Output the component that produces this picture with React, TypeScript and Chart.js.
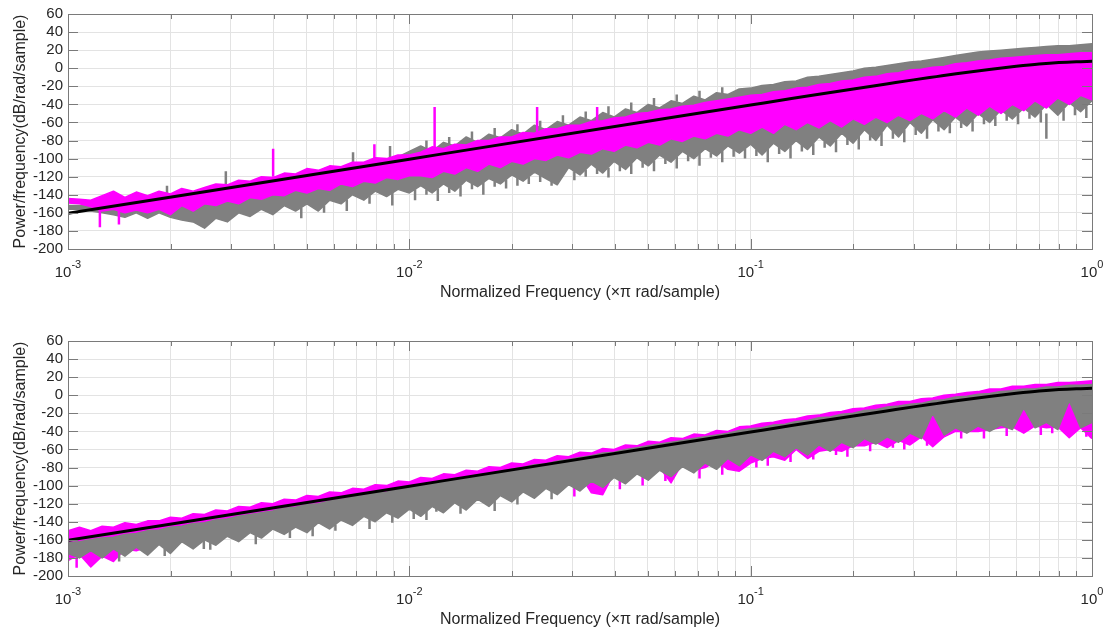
import { useEffect, useRef } from 'react';
import { Chart, registerables } from 'chart.js';

Chart.register(...registerables);

const W = 1108;
const PANEL_H = 314;
const FONT = "'Liberation Sans', Arial, Helvetica, sans-serif";
const TEXT = '#262626';
const GRID = '#e3e3e3';
const AXIS = '#7a7a7a';
const MAGENTA = '#ff00ff';
const GRAY = '#808080';

// Normalized frequency sample positions (x pi rad/sample)
const FREQ = [
  0.001, 0.00108, 0.001166, 0.001259, 0.001359, 0.001468, 0.001585, 0.001711, 0.001848, 0.001995,
  0.002154, 0.002326, 0.002512, 0.002712, 0.002929, 0.003162, 0.003415, 0.003687, 0.003981, 0.004299,
  0.004642, 0.005012, 0.005412, 0.005843, 0.00631, 0.006813, 0.007356, 0.007943, 0.008577, 0.009261,
  0.01, 0.0108, 0.01166, 0.01259, 0.01359, 0.01468, 0.01585, 0.01711, 0.01848, 0.01995,
  0.02154, 0.02326, 0.02512, 0.02712, 0.02929, 0.03162, 0.03415, 0.03687, 0.03981, 0.04299,
  0.04642, 0.05012, 0.05412, 0.05843, 0.0631, 0.06813, 0.07356, 0.07943, 0.08577, 0.09261,
  0.1, 0.108, 0.1166, 0.1259, 0.1359, 0.1468, 0.1585, 0.1711, 0.1848, 0.1995,
  0.2154, 0.2326, 0.2512, 0.2712, 0.2929, 0.3162, 0.3415, 0.3687, 0.3981, 0.4299,
  0.4642, 0.5012, 0.5412, 0.5843, 0.631, 0.6813, 0.7356, 0.7943, 0.8577, 0.9261,
  1.0,
];

// Black model curve (same in both panels)
const MODEL_F = [0.001, 0.01, 0.05, 0.1, 0.12, 0.15, 0.2, 0.25, 0.3, 0.35, 0.4, 0.45, 0.5, 0.6, 0.7, 0.8, 0.9, 1.0];
const MODEL_V = [-160.6, -100.6, -58.7, -40.7, -36.0, -30.2, -22.9, -17.4, -12.9, -9.3, -6.2, -3.6, -1.4, 2.1, 4.7, 6.4, 7.3, 7.7];

// ---------- Top panel ----------
const TOP_MAG_HI = [
  -144, -145, -146, -141, -136, -143, -137, -141, -136, -139,
  -133, -136, -132, -128, -129, -124, -125, -120, -121, -116,
  -117, -111, -113, -108, -109, -104, -104, -99, -100, -96,
  -96, -93, -87, -89, -84, -85, -80, -80, -76, -76,
  -71, -72, -67, -67, -63, -63, -59, -58, -55, -54,
  -50, -49, -46, -45, -42, -41, -38, -36, -34, -32,
  -30, -29, -26, -25, -22, -21, -18, -17, -14, -13,
  -10, -9, -6, -5, -2, -1, 1, 2, 5, 6,
  8, 9, 11, 12, 13, 14, 15, 15, 16, 17,
  17,
];
const TOP_MAG_LO = [
  -149, -150, -153, -158, -156, -160, -157, -160, -156, -162,
  -152, -158, -150, -152, -147, -150, -143, -145, -140, -141,
  -135, -138, -133, -135, -128, -131, -125, -127, -121, -123,
  -119, -119, -121, -114, -117, -110, -114, -106, -110, -103,
  -106, -100, -102, -96, -99, -93, -95, -89, -92, -85,
  -88, -82, -85, -78, -81, -75, -78, -72, -75, -68,
  -72, -65, -72, -62, -68, -60, -66, -58, -65, -56,
  -62, -54, -60, -52, -58, -50, -56, -47, -54, -44,
  -52, -42, -50, -40, -47, -36, -44, -33, -40, -30,
  -35,
];
const TOP_GRAY_HI = [
  -152, -152, -152, -150, -147, -150, -146, -145, -143, -141,
  -140, -140, -137, -135, -131, -130, -128, -126, -124, -121,
  -120, -117, -116, -113, -110, -108, -106, -103, -101, -98,
  -92, -86, -92, -82, -86, -76, -82, -73, -77, -68,
  -73, -63, -68, -59, -63, -54, -58, -49, -54, -45,
  -49, -40, -44, -36, -39, -31, -35, -27, -29, -23,
  -22, -19, -18, -15, -14, -10, -9, -7, -5, -3,
  0, 1, 3, 5, 7, 8, 10, 12, 14, 16,
  18, 19, 20, 21, 22, 23, 24, 25, 25, 26,
  27,
];
const TOP_GRAY_LO = [
  -156, -156, -158, -160, -162, -165, -160, -166, -160, -165,
  -168, -170, -177, -166, -170, -160, -164, -156, -162, -152,
  -158, -150, -158, -146, -150, -140, -146, -136, -142, -134,
  -138, -130, -138, -128, -136, -124, -131, -122, -128, -118,
  -125, -115, -122, -129, -110, -118, -106, -116, -103, -112,
  -99, -108, -96, -104, -92, -100, -89, -97, -86, -94,
  -84, -96, -83, -92, -80, -90, -76, -86, -72, -83,
  -68, -80, -63, -76, -60, -72, -57, -68, -54, -64,
  -50, -60, -46, -56, -44, -54, -40, -52, -38, -48,
  -36,
];
// isolated spikes
const TOP_MAG_SPIKE_F = [0.00124, 0.00141, 0.00399, 0.0079, 0.01186, 0.02368, 0.0355];
const TOP_MAG_SPIKE_FROM = [-152, -152, -120, -103, -92, -76, -66];
const TOP_MAG_SPIKE_TO = [-176, -173, -89, -84, -43, -43, -43];
const TOP_GRAY_SPIKE_F = [0.00195, 0.0029, 0.00684, 0.00878, 0.735];
const TOP_GRAY_SPIKE_FROM = [-141, -131, -108, -101, -50];
const TOP_GRAY_SPIKE_TO = [-130, -114, -93, -86, -78];
// gray whiskers below the band
const TOP_GRAY_DOWN_F = [
  0.004824, 0.005625, 0.006558, 0.007645, 0.008914, 0.010393, 0.011223, 0.012118, 0.013085, 0.014124,
  0.015257, 0.016473, 0.017783, 0.019206, 0.020734, 0.022386, 0.024174, 0.026105, 0.030441, 0.032864,
  0.035486, 0.038319, 0.041375, 0.044679, 0.048244, 0.05209, 0.056247, 0.060726, 0.065579, 0.070807,
  0.07645, 0.082551, 0.089141, 0.09625, 0.10393, 0.11222, 0.12118, 0.13085, 0.14124, 0.15255,
  0.16472, 0.17785, 0.19205, 0.20735, 0.22387, 0.24176, 0.26104, 0.28188, 0.30438, 0.32865,
  0.35491, 0.38318, 0.41374, 0.44679, 0.48244, 0.52089, 0.56244, 0.60728, 0.6558, 0.70806,
  0.82552, 0.89139, 0.96248,
];
const TOP_GRAY_DOWN_FROM = [
  -154, -152, -145, -141, -138, -134, -134, -133, -132, -130,
  -127, -126, -125, -123, -121, -120, -118, -125, -114, -112,
  -111, -110, -107, -105, -103, -102, -100, -98, -96, -94,
  -93, -91, -90, -89, -90, -89, -87, -86, -85, -83,
  -81, -79, -77, -75, -74, -71, -69, -68, -66, -64,
  -62, -61, -59, -57, -55, -53, -51, -50, -49, -47,
  -45, -43, -42,
];
const TOP_GRAY_DOWN_TO = [
  -166, -160, -158, -150, -152, -146, -140, -147, -138, -142,
  -134, -140, -131, -133, -130, -128, -126, -130, -124, -120,
  -117, -121, -114, -117, -110, -114, -106, -111, -103, -108,
  -99, -104, -98, -100, -97, -104, -95, -100, -92, -96,
  -88, -93, -85, -90, -80, -86, -78, -82, -74, -78,
  -70, -72, -66, -70, -62, -64, -58, -62, -56, -60,
  -58, -52, -55,
];
// gray whiskers above the band
const TOP_GRAY_UP_F = [
  0.011223, 0.013085, 0.015257, 0.017783, 0.020734, 0.024174, 0.028184, 0.032864, 0.038319, 0.044679,
  0.05209, 0.060726, 0.070807, 0.082551,
];
const TOP_GRAY_UP_FROM = [-89, -84, -79, -75, -70, -65, -61, -56, -51, -47, -42, -37, -33, -28];
const TOP_GRAY_UP_TO = [-80, -76, -70, -66, -62, -58, -52, -48, -42, -38, -33, -29, -25, -21];

// ---------- Bottom panel ----------
const BOT_MAG_HI = [
  -150, -146, -150, -145, -146, -141, -143, -139, -139, -135,
  -136, -131, -132, -127, -128, -123, -124, -119, -120, -115,
  -116, -111, -112, -107, -108, -103, -104, -99, -100, -95,
  -96, -91, -92, -87, -88, -83, -84, -79, -80, -75,
  -76, -71, -72, -67, -68, -63, -64, -59, -60, -55,
  -56, -51, -52, -47, -48, -43, -44, -39, -40, -35,
  -34, -31, -30, -27, -26, -23, -22, -19, -18, -15,
  -14, -11, -10, -7, -7, -4, -3, 0, 1, 3,
  4, 7, 7, 10, 10, 12, 12, 14, 14, 15,
  16,
];
const BOT_MAG_LO = [
  -183, -176, -190, -178, -184, -170, -172, -168, -160, -165,
  -156, -160, -152, -158, -150, -155, -146, -150, -142, -146,
  -138, -143, -135, -140, -132, -136, -128, -132, -124, -128,
  -120, -115, -120, -112, -116, -108, -112, -104, -108, -100,
  -104, -96, -100, -92, -96, -88, -108, -110, -86, -82,
  -84, -78, -80, -97, -75, -83, -80, -73, -82, -84,
  -75, -70, -68, -72, -60, -70, -62, -60, -62, -56,
  -56, -52, -58, -50, -55, -46, -57, -46, -40, -40,
  -40, -38, -36, -35, -42, -34, -36, -35, -47, -36,
  -48,
];
const BOT_GRAY_HI = [
  -163, -162, -160, -158, -157, -154, -153, -150, -149, -146,
  -145, -142, -141, -138, -137, -134, -132, -130, -128, -125,
  -124, -121, -120, -117, -115, -113, -111, -108, -107, -104,
  -102, -99, -97, -95, -92, -91, -88, -87, -84, -82,
  -80, -77, -76, -73, -71, -69, -67, -64, -63, -60,
  -58, -56, -54, -52, -50, -48, -46, -44, -42, -39,
  -37, -36, -33, -32, -29, -28, -25, -24, -21, -20,
  -17, -16, -13, -12, -10, -9, -6, -5, -2, -1,
  1, 2, 4, 5, 7, 7, 9, 9, 11, 11,
  12,
];
const BOT_GRAY_LO = [
  -175, -180, -172, -180, -170, -178, -168, -177, -165, -175,
  -162, -170, -160, -166, -156, -162, -152, -158, -148, -154,
  -146, -152, -141, -148, -138, -144, -134, -140, -130, -136,
  -126, -134, -123, -130, -119, -127, -115, -123, -111, -118,
  -107, -114, -103, -110, -99, -106, -95, -102, -91, -98,
  -87, -94, -83, -90, -79, -86, -75, -82, -70, -78,
  -66, -72, -62, -68, -58, -66, -55, -62, -52, -58,
  -48, -54, -46, -52, -42, -48, -20, -44, -36, -42,
  -34, -40, -33, -38, -14, -36, -30, -38, -6, -36,
  -30,
];
const BOT_MAG_SPIKE_F = [
  0.00106, 0.00118, 0.00133, 0.030441, 0.041375, 0.048244, 0.056247, 0.070807, 0.082551, 0.10393,
  0.11222, 0.13085, 0.15255, 0.17785, 0.19205, 0.22387, 0.26104, 0.28188, 0.32865, 0.41374,
  0.48244, 0.56244, 0.70806, 0.7645, 0.96248,
];
const BOT_MAG_SPIKE_FROM = [
  -165, -165, -160, -100, -92, -88, -84, -78, -75, -68,
  -66, -62, -60, -56, -54, -50, -48, -46, -44, -38,
  -36, -34, -32, -33, -32,
];
const BOT_MAG_SPIKE_TO = [
  -191, -186, -180, -112, -104, -100, -95, -92, -88, -80,
  -78, -74, -71, -66, -68, -62, -58, -60, -56, -48,
  -48, -45, -44, -42, -46,
];
const BOT_GRAY_SPIKE_F = [
  0.0025, 0.0103, 0.012, 0.001412, 0.00192, 0.002611, 0.003549, 0.004468, 0.005209, 0.006073,
  0.007645, 0.008914, 0.011224, 0.014124, 0.017783, 0.020734, 0.026105,
];
const BOT_GRAY_SPIKE_FROM = [
  -150, -120, -115, -174, -170, -163, -155, -150, -146, -143,
  -137, -133, -128, -123, -117, -112, -106,
];
const BOT_GRAY_SPIKE_TO = [
  -170, -137, -129, -184, -178, -171, -165, -158, -156, -150,
  -148, -141, -138, -131, -128, -121, -115,
];

// Axes
const Y_MIN = -200;
const Y_MAX = 60;
const Y_STEP = 20;
const X_DECADES = [0.001, 0.01, 0.1, 1];
const X_EXPONENTS = ['-3', '-2', '-1', '0'];
const X_MULTIPLIERS = [1, 2, 3, 4, 5, 6, 7, 8, 9];
const X_GRID = X_DECADES.flatMap((d, k) =>
  k === X_DECADES.length - 1 ? [d] : X_MULTIPLIERS.map((m) => +(d * m).toPrecision(3))
);
const X_TITLE = 'Normalized Frequency (×π rad/sample)';
const Y_TITLE = 'Power/frequency(dB/rad/sample)';

const pts = (f: number[], v: number[]) => f.map((x, i) => ({ x, y: v[i] }));
const spikePts = (f: number[], from: number[], to: number[]) =>
  f.flatMap((x, i) => [
    { x, y: from[i] },
    { x, y: to[i] },
    { x, y: null as any },
  ]);

const line = (label: string, data: any[], color: string, width: number, extra: any = {}) => ({
  label,
  data,
  borderColor: color,
  backgroundColor: color,
  borderWidth: width,
  pointRadius: 0,
  fill: false,
  tension: 0,
  borderJoinStyle: 'round',
  spanGaps: false,
  ...extra,
});

const framePlugin = {
  id: 'matlabFrame',
  afterDraw(chart: any) {
    const { ctx, chartArea: a } = chart;
    const xs = chart.scales.x;
    const ys = chart.scales.y;
    ctx.save();
    ctx.strokeStyle = AXIS;
    ctx.lineWidth = 1;
    ctx.beginPath();
    for (const t of ys.ticks) {
      const py = Math.round(ys.getPixelForValue(t.value)) + 0.5;
      ctx.moveTo(a.left, py);
      ctx.lineTo(a.left + 10, py);
      ctx.moveTo(a.right, py);
      ctx.lineTo(a.right - 10, py);
    }
    for (const v of X_GRID) {
      const px = Math.round(xs.getPixelForValue(v)) + 0.5;
      const len = X_DECADES.includes(v) ? 10 : 5;
      ctx.moveTo(px, a.bottom);
      ctx.lineTo(px, a.bottom - len);
      ctx.moveTo(px, a.top);
      ctx.lineTo(px, a.top + len);
    }
    ctx.stroke();
    ctx.strokeRect(Math.round(a.left) + 0.5, Math.round(a.top) + 0.5, Math.round(a.right - a.left), Math.round(a.bottom - a.top));

    ctx.fillStyle = TEXT;
    ctx.textBaseline = 'alphabetic';
    ctx.textAlign = 'left';
    X_DECADES.forEach((v, k) => {
      const px = xs.getPixelForValue(v);
      ctx.font = `15px ${FONT}`;
      const wb = ctx.measureText('10').width;
      ctx.font = `11px ${FONT}`;
      const we = ctx.measureText(X_EXPONENTS[k]).width;
      const x0 = px - (wb + we) / 2;
      ctx.font = `15px ${FONT}`;
      ctx.fillText('10', x0, a.bottom + 28);
      ctx.font = `11px ${FONT}`;
      ctx.fillText(X_EXPONENTS[k], x0 + wb, a.bottom + 19);
    });

    ctx.font = `16px ${FONT}`;
    ctx.textAlign = 'center';
    ctx.fillText(X_TITLE, (a.left + a.right) / 2, a.bottom + 48);

    ctx.translate(21, (a.top + a.bottom) / 2);
    ctx.rotate(-Math.PI / 2);
    ctx.textBaseline = 'middle';
    ctx.fillText(Y_TITLE, 0, 0);
    ctx.restore();
  },
};

type Spikes = [number[], number[], number[]];

interface PanelSpec {
  magHi: number[];
  magLo: number[];
  grayHi: number[];
  grayLo: number[];
  magSpikes: Spikes[];
  graySpikes: Spikes[];
  grayOnTop: boolean;
  padTop: number;
  xAxisH: number;
}

const spikeData = (groups: Spikes[]) => groups.flatMap((g) => spikePts(g[0], g[1], g[2]));

function makeConfig(spec: PanelSpec): any {
  const magGroup = (base: number) => [
    line('Magenta spikes', spikeData(spec.magSpikes), MAGENTA, 2.5, { borderJoinStyle: 'miter' }),
    line('Magenta upper', pts(FREQ, spec.magHi), MAGENTA, 1.5),
    line('Magenta lower', pts(FREQ, spec.magLo), MAGENTA, 1.5, { fill: { target: base + 1 } }),
  ];
  const grayGroup = (base: number) => [
    line('Gray spikes', spikeData(spec.graySpikes), GRAY, 2.5, { borderJoinStyle: 'miter' }),
    line('Gray upper', pts(FREQ, spec.grayHi), GRAY, 1.5),
    line('Gray lower', pts(FREQ, spec.grayLo), GRAY, 1.5, { fill: { target: base + 1 } }),
  ];
  const model = line('Model', pts(MODEL_F, MODEL_V), '#000000', 3, { cubicInterpolationMode: 'monotone' });
  const datasets = spec.grayOnTop
    ? [model, ...grayGroup(1), ...magGroup(4)]
    : [model, ...magGroup(1), ...grayGroup(4)];

  return {
    type: 'line',
    data: { datasets },
    options: {
      animation: false,
      responsive: false,
      devicePixelRatio: 1,
      events: [],
      layout: { padding: { top: spec.padTop, right: 16, left: 0, bottom: 0 } },
      plugins: { legend: { display: false }, tooltip: { enabled: false } },
      elements: { point: { radius: 0 } },
      scales: {
        x: {
          type: 'logarithmic',
          min: 0.001,
          max: 1,
          afterBuildTicks: (s: any) => {
            s.ticks = X_GRID.map((value) => ({ value }));
          },
          afterFit: (s: any) => {
            s.height = spec.xAxisH;
          },
          ticks: { display: false },
          grid: { color: GRID, lineWidth: 1, drawTicks: false },
          border: { display: false },
        },
        y: {
          type: 'linear',
          min: Y_MIN,
          max: Y_MAX,
          afterFit: (s: any) => {
            s.width = 68;
          },
          ticks: { stepSize: Y_STEP, padding: 5, color: TEXT, font: { family: FONT, size: 15 }, autoSkip: false },
          grid: { color: GRID, lineWidth: 1, drawTicks: false },
          border: { display: false },
        },
      },
    },
    plugins: [framePlugin],
  };
}

const TOP_SPEC: PanelSpec = {
  magHi: TOP_MAG_HI,
  magLo: TOP_MAG_LO,
  grayHi: TOP_GRAY_HI,
  grayLo: TOP_GRAY_LO,
  magSpikes: [[TOP_MAG_SPIKE_F, TOP_MAG_SPIKE_FROM, TOP_MAG_SPIKE_TO]],
  graySpikes: [
    [TOP_GRAY_SPIKE_F, TOP_GRAY_SPIKE_FROM, TOP_GRAY_SPIKE_TO],
    [TOP_GRAY_DOWN_F, TOP_GRAY_DOWN_FROM, TOP_GRAY_DOWN_TO],
    [TOP_GRAY_UP_F, TOP_GRAY_UP_FROM, TOP_GRAY_UP_TO],
  ],
  grayOnTop: false,
  padTop: 14,
  xAxisH: 65,
};

const BOT_SPEC: PanelSpec = {
  magHi: BOT_MAG_HI,
  magLo: BOT_MAG_LO,
  grayHi: BOT_GRAY_HI,
  grayLo: BOT_GRAY_LO,
  magSpikes: [[BOT_MAG_SPIKE_F, BOT_MAG_SPIKE_FROM, BOT_MAG_SPIKE_TO]],
  graySpikes: [[BOT_GRAY_SPIKE_F, BOT_GRAY_SPIKE_FROM, BOT_GRAY_SPIKE_TO]],
  grayOnTop: true,
  padTop: 27,
  xAxisH: 52,
};

export default function App() {
  const topRef = useRef<HTMLCanvasElement>(null);
  const botRef = useRef<HTMLCanvasElement>(null);

  useEffect(() => {
    const c1 = new Chart(topRef.current as HTMLCanvasElement, makeConfig(TOP_SPEC));
    const c2 = new Chart(botRef.current as HTMLCanvasElement, makeConfig(BOT_SPEC));
    return () => {
      c1.destroy();
      c2.destroy();
    };
  }, []);

  return (
    <div style={{ position: 'absolute', left: 0, top: 0, width: W, height: 628, background: '#ffffff' }}>
      <canvas ref={topRef} width={W} height={PANEL_H} style={{ position: 'absolute', left: 0, top: 0 }} />
      <canvas ref={botRef} width={W} height={PANEL_H} style={{ position: 'absolute', left: 0, top: PANEL_H }} />
    </div>
  );
}
